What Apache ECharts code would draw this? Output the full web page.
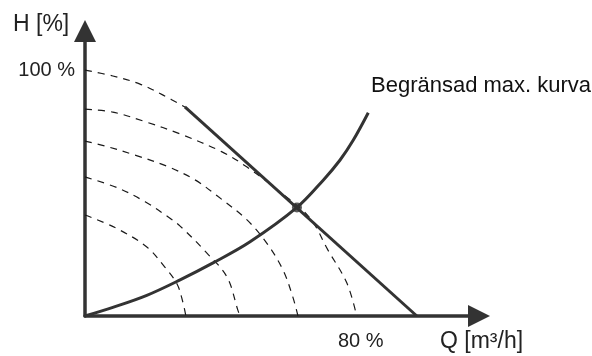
<!DOCTYPE html>
<html>
<head>
<meta charset="utf-8">
<script src="https://cdn.jsdelivr.net/npm/echarts@6/dist/echarts.min.js"></script>
<style>
  html, body { margin: 0; padding: 0; background: #fff; }
  #chart { width: 592px; height: 356px; }
</style>
</head>
<body>
<div id="chart"></div>
<script>
// Pump curves: flow Q (%) against head H (%)
// Speed curves, from full speed down to the lowest step
const speed100 = [[0, 100.1], [8.2, 97.7], [16.2, 94.4], [23, 89.9], [29.4, 85.1]];
const speed2 = [[0, 84.2], [8.2, 83.0], [17.7, 79.1], [28, 74.1], [40.2, 66.9], [47.7, 60.6],
                [57.4, 50.5], [66.2, 39.9], [71.5, 26.9], [77.1, 13.4], [80, 0]];
const speed3 = [[0, 71.2], [5.9, 69.2], [14.7, 65.5], [24.4, 60.8], [32.4, 55.4], [39.2, 48.6],
                [47.7, 39.1], [53.5, 29.7], [58.3, 18.7], [61.2, 7.7], [62.7, 0]];
const speed4 = [[0, 56.6], [9.7, 52.1], [17.7, 46.5], [24.4, 40.4], [28, 36.6], [35.9, 25.6],
                [41.8, 15.9], [45, 2.4], [45.6, 0]];
const speed5 = [[0, 41.1], [9.1, 35.8], [18.2, 28.1], [23.5, 19.9], [27.1, 13.0], [28.8, 5.7], [29.7, 0]];

// Limited maximum curve (straight line)
const maxCurve = [[29.4, 85.1], [97.7, 0]];

// System curve
const systemCurve = [[0, 0], [8.2, 3.5], [18.2, 8.4], [28, 14.7], [37.7, 21.6], [48.6, 30.2],
                     [62.4, 44.2], [70.2, 55.4], [75.1, 63.5], [79.0, 71.6], [83.4, 82.7]];

// Operating point
const dutyPoint = [[62.4, 44.2]];

// Tick labels
const qTicks = [80];
const hTicks = [100];

const ink = '#333333';
const fontFamily = 'Liberation Sans, Arial, sans-serif';

const dashed = (data) => ({
  type: 'line',
  data: data,
  smooth: 0.35,
  showSymbol: false,
  silent: true,
  lineStyle: { color: '#1a1a1a', width: 1.2, type: [7, 6] },
  z: 2
});

const chart = echarts.init(document.getElementById('chart'), null, { renderer: 'canvas' });

chart.setOption({
  animation: false,
  backgroundColor: '#ffffff',
  grid: { left: 85, right: 113, top: 31, bottom: 40, containLabel: false, outerBoundsMode: 'none' },
  xAxis: {
    type: 'value',
    min: 0,
    max: 116,
    axisLine: {
      show: true,
      symbol: ['none', 'triangle'],
      symbolSize: [22, 22],
      lineStyle: { color: ink, width: 3.5 }
    },
    axisTick: { show: false },
    splitLine: { show: false },
    axisLabel: {
      customValues: qTicks,
      formatter: '{value} %',
      color: '#222',
      fontSize: 20,
      fontFamily: fontFamily,
      margin: 15,
      padding: [0, 0, 0, 8]
    }
  },
  yAxis: {
    type: 'value',
    min: 0,
    max: 116,
    axisLine: {
      show: true,
      symbol: ['none', 'triangle'],
      symbolSize: [22, 22],
      lineStyle: { color: ink, width: 3.5 }
    },
    axisTick: { show: false },
    splitLine: { show: false },
    axisLabel: {
      customValues: hTicks,
      formatter: '{value} %',
      color: '#222',
      fontSize: 20,
      fontFamily: fontFamily,
      margin: 10
    }
  },
  series: [
    dashed(speed100),
    dashed(speed2),
    dashed(speed3),
    dashed(speed4),
    dashed(speed5),
    {
      type: 'line',
      data: maxCurve,
      showSymbol: false,
      silent: true,
      lineStyle: { color: ink, width: 3 },
      z: 3
    },
    {
      type: 'line',
      data: systemCurve,
      smooth: 0.35,
      showSymbol: false,
      silent: true,
      lineStyle: { color: ink, width: 3 },
      z: 3
    },
    {
      type: 'scatter',
      data: dutyPoint,
      symbol: 'circle',
      symbolSize: 10,
      silent: true,
      itemStyle: { color: ink },
      z: 4
    }
  ],
  graphic: [
    {
      type: 'text',
      left: 13,
      top: 13,
      style: { text: 'H [%]', fill: '#222', font: '23px ' + fontFamily }
    },
    {
      type: 'text',
      left: 440,
      top: 330,
      style: { text: 'Q [m³/h]', fill: '#222', font: '23px ' + fontFamily }
    },
    {
      type: 'text',
      left: 371,
      top: 75,
      style: { text: 'Begränsad max. kurva', fill: '#111', font: '22px ' + fontFamily }
    }
  ]
});
</script>
</body>
</html>
